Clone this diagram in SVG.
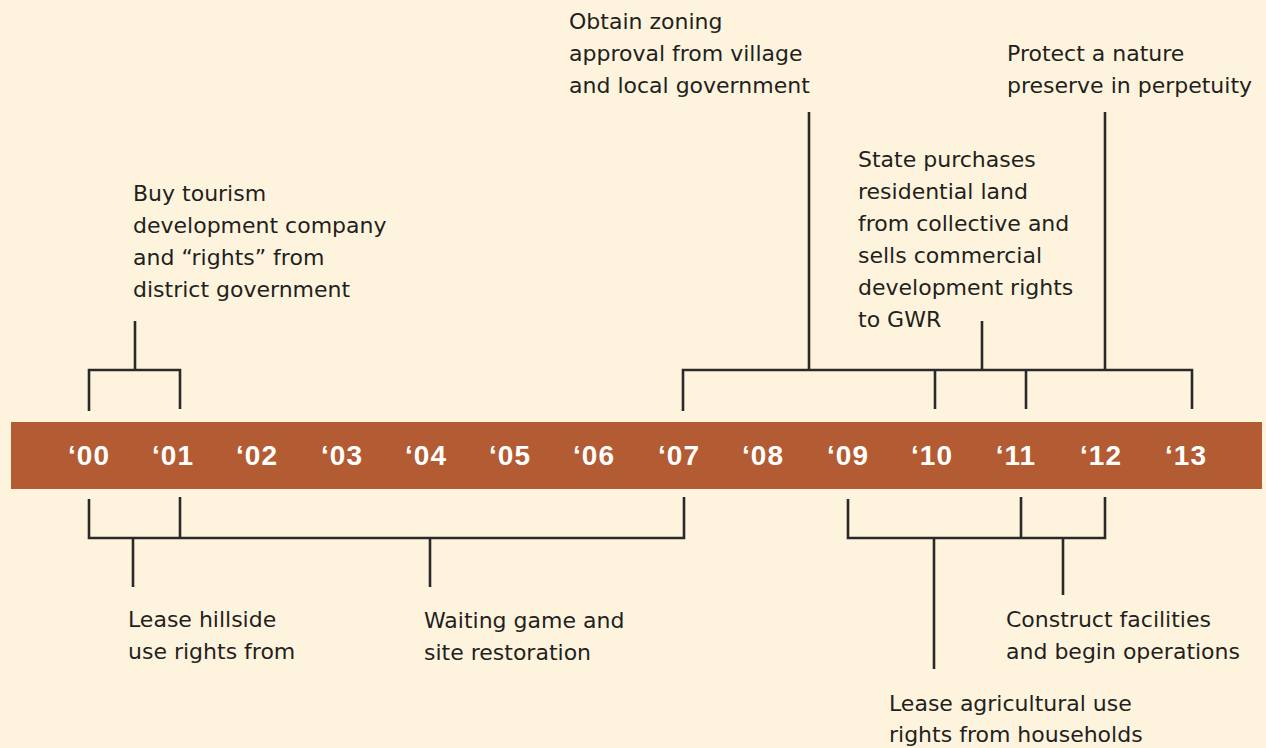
<svg xmlns="http://www.w3.org/2000/svg" width="1266" height="748" viewBox="0 0 1266 748">
<style>
.lbl{font-family:"DejaVu Sans","Liberation Sans",sans-serif;font-size:22px;fill:#231f20}
.yr{font-family:"Liberation Sans",Arial,sans-serif;font-size:28px;font-weight:bold;fill:#ffffff;text-anchor:middle;letter-spacing:1px}
.ln{fill:none;stroke:#2a2a2a;stroke-width:2.6;stroke-linecap:butt;stroke-linejoin:miter}
</style>
<rect x="0" y="0" width="1266" height="748" fill="#fef4de"/>
<g id="timeline">
<rect x="11" y="422" width="1251" height="67" fill="#b35b32"/>
<text class="yr" x="89" y="465">‘00</text>
<text class="yr" x="173" y="465">‘01</text>
<text class="yr" x="257" y="465">‘02</text>
<text class="yr" x="342" y="465">‘03</text>
<text class="yr" x="426" y="465">‘04</text>
<text class="yr" x="510" y="465">‘05</text>
<text class="yr" x="594" y="465">‘06</text>
<text class="yr" x="679" y="465">‘07</text>
<text class="yr" x="763" y="465">‘08</text>
<text class="yr" x="848" y="465">‘09</text>
<text class="yr" x="932" y="465">‘10</text>
<text class="yr" x="1016" y="465">‘11</text>
<text class="yr" x="1101" y="465">‘12</text>
<text class="yr" x="1186" y="465">‘13</text>
</g>
<g id="connectors">
<path class="ln" d="M89 411 V370 H180 V409 M135 370 V321"/>
<path class="ln" d="M683 411 V370 H1192 V409 M935 370 V409 M1026 370 V409 M809 370 V112 M982 370 V321 M1105 370 V112"/>
<path class="ln" d="M89 499 V538 H684 V497 M180 497 V538 M133 538 V587 M430 538 V587"/>
<path class="ln" d="M848 499 V538 H1105 V497 M1021 497 V538 M934 538 V669 M1063 538 V595"/>
</g>
<g id="buy-tourism">
<text class="lbl" x="133" y="201">Buy tourism</text>
<text class="lbl" x="133" y="233">development company</text>
<text class="lbl" x="133" y="265">and “rights” from</text>
<text class="lbl" x="133" y="297">district government</text>
</g>
<g id="obtain-zoning">
<text class="lbl" x="569" y="29">Obtain zoning</text>
<text class="lbl" x="569" y="61">approval from village</text>
<text class="lbl" x="569" y="93">and local government</text>
</g>
<g id="protect-nature">
<text class="lbl" x="1007" y="61">Protect a nature</text>
<text class="lbl" x="1007" y="93">preserve in perpetuity</text>
</g>
<g id="state-purchases">
<text class="lbl" x="858" y="167">State purchases</text>
<text class="lbl" x="858" y="199">residential land</text>
<text class="lbl" x="858" y="231">from collective and</text>
<text class="lbl" x="858" y="263">sells commercial</text>
<text class="lbl" x="858" y="295">development rights</text>
<text class="lbl" x="858" y="327">to GWR</text>
</g>
<g id="lease-hillside">
<text class="lbl" x="128" y="627">Lease hillside</text>
<text class="lbl" x="128" y="659">use rights from</text>
</g>
<g id="waiting-game">
<text class="lbl" x="424" y="628">Waiting game and</text>
<text class="lbl" x="424" y="660">site restoration</text>
</g>
<g id="construct-facilities">
<text class="lbl" x="1006" y="627">Construct facilities</text>
<text class="lbl" x="1006" y="659">and begin operations</text>
</g>
<g id="lease-agricultural">
<text class="lbl" x="889" y="711">Lease agricultural use</text>
<text class="lbl" x="889" y="742">rights from households</text>
</g>
</svg>
